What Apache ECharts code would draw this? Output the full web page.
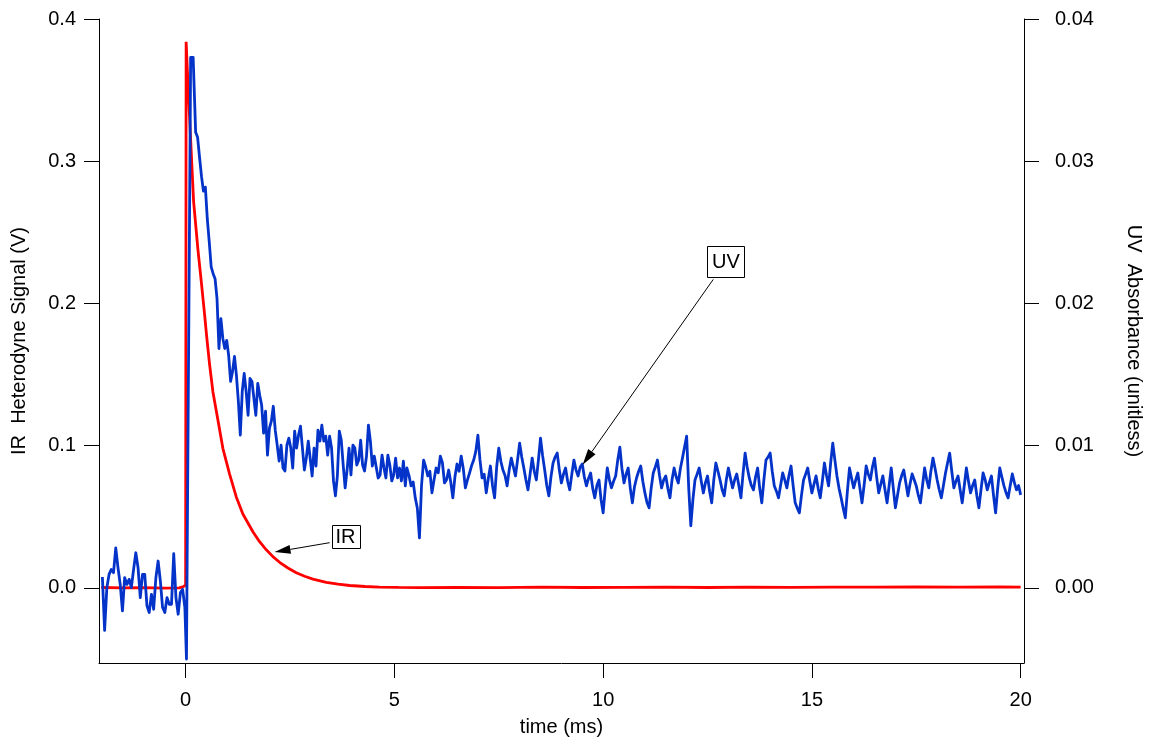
<!DOCTYPE html>
<html>
<head>
<meta charset="utf-8">
<script src="https://cdn.jsdelivr.net/npm/echarts@6/dist/echarts.min.js"></script>
<style>
  html, body { margin: 0; padding: 0; background: #fff; }
  #chart { width: 1152px; height: 742px; }
</style>
</head>
<body>
<div id="chart"></div>
<script>
// ---- axis ranges and tick values ----
const timeMin = -2.075, timeMax = 20.08;
const irMin = -0.0528, irMax = 0.4;
const uvMin = -0.00528, uvMax = 0.04;
const timeTicks = [0, 5, 10, 15, 20];
const irTicks = [0, 0.1, 0.2, 0.3, 0.4];
const uvTicks = [0, 0.01, 0.02, 0.03, 0.04];

// ---- IR heterodyne signal (V) ----
const irTime = [-2.02, -1.5, -1.0, -0.5, -0.15, -0.05, 0.0, 0.012, 0.04, 0.096, 0.19, 0.294, 0.376,
  0.455, 0.51, 0.574, 0.653, 0.773, 0.893, 1.053, 1.213, 1.371, 1.611, 1.771, 1.932, 2.09, 2.25,
  2.45, 2.65, 2.85, 3.05, 3.37, 3.65, 3.93, 4.3, 4.64, 5.1, 5.6, 6.5, 7.5, 8.5, 9.5, 10.5, 11.5,
  12.5, 13.5, 14.5, 15.5, 16.5, 17.5, 18.5, 19.5, 20.0];
const irValue = [0.0003, 0.0, 0.0002, -0.0002, 0.0, 0.001, 0.002, 0.384, 0.365, 0.330, 0.272, 0.238, 0.215,
  0.192, 0.175, 0.157, 0.138, 0.118, 0.098, 0.080, 0.064, 0.052, 0.0395, 0.0325, 0.0268, 0.0220, 0.0180,
  0.0140, 0.0107, 0.0082, 0.0062, 0.0039, 0.0026, 0.0017, 0.0010, 0.0006, 0.0004, 0.0002, 0.0004, 0.0002,
  0.0005, 0.0003, 0.0004, 0.0006, 0.0003, 0.0005, 0.0004, 0.0006, 0.0005, 0.0007, 0.0005, 0.0007, 0.0006];

// ---- UV absorbance (unitless), sampled in segments ----
const uvPreStart = -1.994, uvPreStep = 0.0534;
const uvPre = [0.00077, -0.00299, 0.00002, 0.00095, 0.00130, 0.00107, 0.00282, 0.00142, 0.00025, -0.00161,
  0.00072, 0.00025, 0.00060, 0.00002, 0.00130, 0.00247, 0.00142, -0.00068, 0.00095, 0.00095,
  -0.00126, -0.00173, -0.00045, -0.00150, 0.00072, 0.00189, 0.00049, -0.00138, -0.00173, -0.00068,
  -0.00115, -0.00115, 0.00240, -0.00068, -0.00185, -0.00033, -0.00010, -0.00138];

const uvSpikeTime = [0.02, 0.12, 0.18];
const uvSpikeValue = [-0.0050, 0.0373, 0.0373];

const uvEarlyStart = 0.24, uvEarlyStep = 0.0465;
const uvEarly = [0.03203, 0.03168, 0.03028, 0.02895, 0.02790, 0.02818, 0.02594, 0.02433, 0.02258, 0.02209,
  0.02174, 0.02034, 0.01683, 0.01894, 0.01754, 0.01683, 0.01740, 0.01634, 0.01452, 0.01522,
  0.01627, 0.01494, 0.01312, 0.01074, 0.01382, 0.01508, 0.01382, 0.01214, 0.01473, 0.01452,
  0.01438, 0.01214, 0.01438, 0.01354, 0.01284, 0.01088, 0.01242, 0.00934, 0.01123, 0.01172,
  0.01277, 0.01109, 0.01004, 0.00892, 0.01004, 0.00843, 0.00822, 0.01004, 0.01053, 0.00983,
  0.00843, 0.01102, 0.00983, 0.01074, 0.01137, 0.00983, 0.00829, 0.00913, 0.01032, 0.01032,
  0.00787, 0.00983, 0.00857, 0.01109, 0.01032, 0.01144, 0.01032, 0.01067, 0.00934, 0.01067,
  0.00983, 0.00752, 0.00647, 0.00787, 0.01102, 0.01039, 0.00864, 0.00703, 0.00829, 0.00983,
  0.00794, 0.01004, 0.00983, 0.00864, 0.00899, 0.01039, 0.00864, 0.00822, 0.00927, 0.01144,
  0.01032, 0.00857, 0.00927, 0.00913, 0.00773, 0.00794, 0.00934, 0.00843, 0.00773, 0.00934,
  0.00864, 0.00752, 0.00794, 0.00913, 0.00773, 0.00843, 0.00752, 0.00892, 0.00717];

const uvLateStart = 5.3, uvLateStep = 0.05;
const uvLate = [
  0.00843, 0.00790, 0.00717, 0.00745, 0.00633, 0.00560, 0.00352, 0.00720, 0.00899, 0.00850,
  0.00787, 0.00820, 0.00668, 0.00760, 0.00843, 0.00810, 0.00927, 0.00880, 0.00738, 0.00760,
  0.00829, 0.00745, 0.00633, 0.00780, 0.00871, 0.00820, 0.00927, 0.00840, 0.00703, 0.00760,
  0.00808, 0.00860, 0.00899, 0.00960, 0.01074, 0.00900, 0.00773, 0.00800, 0.00668, 0.00770,
  0.00857, 0.00720, 0.00633, 0.00850, 0.00983, 0.00890, 0.00829, 0.00790, 0.00717, 0.00830,
  0.00913, 0.00850, 0.00787, 0.00900, 0.01018, 0.00920, 0.00843, 0.00760, 0.00689, 0.00800,
  0.00913, 0.00820, 0.00759, 0.00900, 0.01053, 0.00930, 0.00829, 0.00720, 0.00647, 0.00780,
  0.00878, 0.00920, 0.00948, 0.00830, 0.00738, 0.00800, 0.00843, 0.00750, 0.00689, 0.00800,
  0.00899, 0.00830, 0.00787, 0.00850, 0.00871, 0.00780, 0.00717, 0.00770, 0.00808, 0.00700,
  0.00633, 0.00720, 0.00759, 0.00620, 0.00528, 0.00700, 0.00843, 0.00760, 0.00703, 0.00750,
  0.00787, 0.00900, 0.00990, 0.00840, 0.00738, 0.00800, 0.00843, 0.00700, 0.00598, 0.00710,
  0.00773, 0.00820, 0.00857, 0.00750, 0.00668, 0.00600, 0.00563, 0.00700, 0.00808, 0.00850,
  0.00899, 0.00790, 0.00703, 0.00760, 0.00787, 0.00700, 0.00633, 0.00760, 0.00843, 0.00780,
  0.00738, 0.00840, 0.00913, 0.00990, 0.01067, 0.00700, 0.00437, 0.00620, 0.00759, 0.00800,
  0.00843, 0.00750, 0.00668, 0.00740, 0.00787, 0.00680, 0.00598, 0.00760, 0.00878, 0.00820,
  0.00759, 0.00690, 0.00647, 0.00760, 0.00843, 0.00770, 0.00703, 0.00760, 0.00801, 0.00720,
  0.00633, 0.00800, 0.00948, 0.00850, 0.00773, 0.00720, 0.00689, 0.00780, 0.00843, 0.00700,
  0.00598, 0.00760, 0.00899, 0.00920, 0.00948, 0.00820, 0.00717, 0.00680, 0.00633, 0.00720,
  0.00808, 0.00760, 0.00703, 0.00790, 0.00857, 0.00720, 0.00598, 0.00560, 0.00528, 0.00650,
  0.00759, 0.00800, 0.00843, 0.00750, 0.00668, 0.00730, 0.00787, 0.00700, 0.00633, 0.00750,
  0.00878, 0.00790, 0.00717, 0.00880, 0.01018, 0.00900, 0.00787, 0.00700, 0.00633, 0.00560,
  0.00493, 0.00680, 0.00843, 0.00770, 0.00703, 0.00760, 0.00808, 0.00700, 0.00598, 0.00720,
  0.00857, 0.00800, 0.00759, 0.00850, 0.00913, 0.00780, 0.00668, 0.00730, 0.00787, 0.00690,
  0.00598, 0.00720, 0.00843, 0.00700, 0.00563, 0.00650, 0.00738, 0.00790, 0.00829, 0.00740,
  0.00647, 0.00730, 0.00801, 0.00760, 0.00717, 0.00650, 0.00598, 0.00720, 0.00843, 0.00760,
  0.00703, 0.00820, 0.00913, 0.00840, 0.00759, 0.00690, 0.00633, 0.00720, 0.00808, 0.00880,
  0.00948, 0.00820, 0.00703, 0.00750, 0.00787, 0.00690, 0.00598, 0.00720, 0.00843, 0.00750,
  0.00668, 0.00720, 0.00759, 0.00650, 0.00563, 0.00690, 0.00808, 0.00760, 0.00689, 0.00740,
  0.00787, 0.00650, 0.00528, 0.00700, 0.00843, 0.00780, 0.00717, 0.00670, 0.00633, 0.00720,
  0.00801, 0.00740, 0.00689, 0.00720, 0.00654];

// ---- annotation anchors: [time, value] ----
const uvNoteBox = [12.94, 0.02296], uvNoteTail = [12.637, 0.02169], uvNoteTip = [9.509, 0.00866];
const irNoteBox = [3.83, 0.0361], irNoteTail = [3.45, 0.0318], irNoteTip = [2.13, 0.0252];

// ---- build series data ----
function segment(start, step, values) {
  return values.map((v, i) => [start + i * step, v]);
}
const irData = irTime.map((t, i) => [t, irValue[i]]);
const uvData = [].concat(
  segment(uvPreStart, uvPreStep, uvPre),
  uvSpikeTime.map((t, i) => [t, uvSpikeValue[i]]),
  segment(uvEarlyStart, uvEarlyStep, uvEarly),
  segment(uvLateStart, uvLateStep, uvLate)
);

const FONT = '"Liberation Sans", Arial, Helvetica, sans-serif';
const black = '#000';

const chart = echarts.init(document.getElementById('chart'), null, { renderer: 'canvas' });

function valueAxisCommon(ticks, fmt, margin) {
  return {
    type: 'value',
    axisLine: { show: true, onZero: false, lineStyle: { color: black, width: 1 } },
    axisTick: { show: true, customValues: ticks, length: 15, lineStyle: { color: black, width: 1 } },
    axisLabel: { show: true, customValues: ticks, margin: margin, color: black, fontSize: 20, fontFamily: FONT, formatter: fmt },
    splitLine: { show: false },
    nameTextStyle: { color: black, fontSize: 20, fontFamily: FONT }
  };
}

const option = {
  animation: false,
  backgroundColor: '#fff',
  textStyle: { fontFamily: FONT },
  grid: { left: 99, right: 127, top: 19, bottom: 76, containLabel: false },
  xAxis: Object.assign(valueAxisCommon(timeTicks, v => String(v), 27), {
    min: timeMin, max: timeMax,
    name: 'time (ms)', nameLocation: 'middle', nameGap: 54
  }),
  yAxis: [
    Object.assign(valueAxisCommon(irTicks, v => v.toFixed(1), 23), {
      position: 'left', min: irMin, max: irMax,
      name: 'IR  Heterodyne Signal (V)', nameLocation: 'middle', nameRotate: 90, nameGap: 70
    }),
    Object.assign(valueAxisCommon(uvTicks, v => v.toFixed(2), 31), {
      position: 'right', min: uvMin, max: uvMax,
      name: 'UV  Absorbance (unitless)', nameLocation: 'middle', nameRotate: -90, nameGap: 100
    })
  ],
  series: [
    {
      name: 'IR', type: 'line', xAxisIndex: 0, yAxisIndex: 0, data: irData,
      showSymbol: false, symbol: 'none', z: 2,
      lineStyle: { color: '#ff0000', width: 2.8 }, itemStyle: { color: '#ff0000' }
    },
    {
      name: 'UV', type: 'line', xAxisIndex: 0, yAxisIndex: 1, data: uvData,
      showSymbol: false, symbol: 'none', z: 3,
      lineStyle: { color: '#0433c9', width: 2.8, join: 'round' }, itemStyle: { color: '#0433c9' }
    }
  ]
};
chart.setOption(option);

// ---- boxed labels with arrows, placed through the axis scales ----
function toPx(pt, yAxisIndex) {
  return chart.convertToPixel({ xAxisIndex: 0, yAxisIndex: yAxisIndex }, pt);
}
function arrow(tail, tip, yAxisIndex) {
  const a = toPx(tail, yAxisIndex), b = toPx(tip, yAxisIndex);
  const dx = b[0] - a[0], dy = b[1] - a[1];
  const len = Math.hypot(dx, dy), ux = dx / len, uy = dy / len;
  const headLen = 16, headHalf = 4.5;
  const base = [b[0] - ux * headLen, b[1] - uy * headLen];
  return [
    { type: 'line', z: 100, shape: { x1: a[0], y1: a[1], x2: base[0], y2: base[1] },
      style: { stroke: black, lineWidth: 1 } },
    { type: 'polygon', z: 100, shape: { points: [
        [b[0], b[1]],
        [base[0] - uy * headHalf, base[1] + ux * headHalf],
        [base[0] + uy * headHalf, base[1] - ux * headHalf]
      ] }, style: { fill: black } }
  ];
}
function box(text, center, yAxisIndex, w, h) {
  const c = toPx(center, yAxisIndex);
  return [
    { type: 'rect', z: 100, shape: { x: Math.round(c[0] - w / 2) + 0.5, y: Math.round(c[1] - h / 2) + 0.5, width: w, height: h },
      style: { fill: '#fff', stroke: black, lineWidth: 1 } },
    { type: 'text', z: 101, x: c[0], y: c[1] + 1,
      style: { text: text, fill: black, font: '20px ' + FONT, align: 'center', verticalAlign: 'middle' } }
  ];
}

chart.setOption({
  graphic: [].concat(
    arrow(uvNoteTail, uvNoteTip, 1),
    box('UV', uvNoteBox, 1, 37, 31),
    arrow(irNoteTail, irNoteTip, 0),
    box('IR', irNoteBox, 0, 28, 23)
  )
});
</script>
</body>
</html>
